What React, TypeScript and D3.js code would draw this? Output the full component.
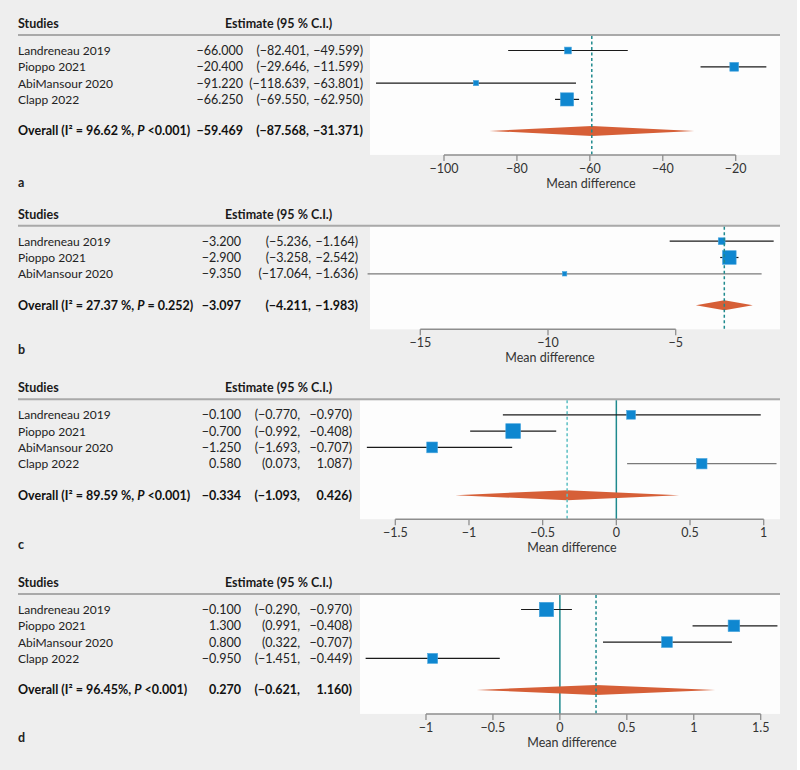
import React from 'react';
import * as d3 from 'd3';

// ---- data ----
const studies4 = ['Landreneau 2019', 'Pioppo 2021', 'AbiMansour 2020', 'Clapp 2022'];
const studies3 = ['Landreneau 2019', 'Pioppo 2021', 'AbiMansour 2020'];

// panel a
const meanA = [-66.0, -20.4, -91.22, -66.25];
const lowA = [-82.401, -29.646, -118.639, -69.55];
const highA = [-49.599, -11.599, -63.801, -62.95];
const weightA = [17, 22, 13, 33];
const estTextA = ['−66.000', '−20.400', '−91.220', '−66.250'];
const ciLoTextA = ['(−82.401,', '(−29.646,', '(−118.639,', '(−69.550,'];
const ciHiTextA = ['−49.599)', '−11.599)', '−63.801)', '−62.950)'];
const overallA = [-59.469, -87.568, -31.371];
const overallTextA = ['−59.469', '(−87.568,', '−31.371)'];
const ticksA = [-100, -80, -60, -40, -20];

// panel b
const meanB = [-3.2, -2.9, -9.35];
const lowB = [-5.236, -3.258, -17.064];
const highB = [-1.164, -2.542, -1.636];
const weightB = [17, 34, 11];
const estTextB = ['−3.200', '−2.900', '−9.350'];
const ciLoTextB = ['(−5.236,', '(−3.258,', '(−17.064,'];
const ciHiTextB = ['−1.164)', '−2.542)', '−1.636)'];
const overallB = [-3.097, -4.211, -1.983];
const overallTextB = ['−3.097', '(−4.211,', '−1.983)'];
const ticksB = [-15, -10, -5];

// panel c
const meanC = [0.1, -0.7, -1.25, 0.58];
const lowC = [-0.77, -0.992, -1.693, 0.073];
const highC = [0.98, -0.408, -0.707, 1.087];
const weightC = [22, 37, 27, 26];
const estTextC = ['−0.100', '−0.700', '−1.250', '0.580'];
const ciLoTextC = ['(−0.770,', '(−0.992,', '(−1.693,', '(0.073,'];
const ciHiTextC = ['−0.970)', '−0.408)', '−0.707)', '1.087)'];
const overallC = [-0.334, -1.093, 0.426];
const overallTextC = ['−0.334', '(−1.093,', '0.426)'];
const ticksC = [-1.5, -1, -0.5, 0, 0.5, 1];

// panel d
const meanD = [-0.1, 1.3, 0.8, -0.95];
const lowD = [-0.29, 0.991, 0.322, -1.451];
const highD = [0.09, 1.625, 1.285, -0.449];
const weightD = [36, 29, 27, 25];
const estTextD = ['−0.100', '1.300', '0.800', '−0.950'];
const ciLoTextD = ['(−0.290,', '(0.991,', '(0.322,', '(−1.451,'];
const ciHiTextD = ['−0.970)', '−0.408)', '−0.707)', '−0.449)'];
const overallD = [0.27, -0.621, 1.16];
const overallTextD = ['0.270', '(−0.621,', '1.160)'];
const ticksD = [-1, -0.5, 0, 0.5, 1, 1.5];

const i2Text = ['96.62 %', '27.37 %', '89.59 %', '96.45%'];
const pText = [' <0.001)', ' = 0.252)', ' <0.001)', ' <0.001)'];
const panelLetters = ['a', 'b', 'c', 'd'];

// ---- layout ----
const W = 800;
const H = 770;
const FONT = 'Lato, "Noto Sans", sans-serif';
const BLUE = '#0f87d0';
const ORANGE = '#d65f37';
const TEAL = '#1f8a8e';
const TEAL_LIGHT = '#5bbfc3';
const RIGHT = 780;

const panels = [
  { studies: studies4, mean: meanA, low: lowA, high: highA, weight: weightA, est: estTextA, ciLo: ciLoTextA, ciHi: ciHiTextA, overall: overallA, overallText: overallTextA, ticks: ticksA,
    ruleY: 35, plotLeft: 370, range: [444, 735.7], estX: 243, loX: 309, hiX: 363, titleX: 591, letterY: 187, zero: false, dashColor: TEAL, faintRow: -1 },
  { studies: studies3, mean: meanB, low: lowB, high: highB, weight: weightB, est: estTextB, ciLo: ciLoTextB, ciHi: ciHiTextB, overall: overallB, overallText: overallTextB, ticks: ticksB,
    ruleY: 225.7, plotLeft: 370, range: [420.3, 675.7], estX: 241, loX: 311, hiX: 358, titleX: 550, letterY: 354, zero: false, dashColor: TEAL, faintRow: 2 },
  { studies: studies4, mean: meanC, low: lowC, high: highC, weight: weightC, est: estTextC, ciLo: ciLoTextC, ciHi: ciHiTextC, overall: overallC, overallText: overallTextC, ticks: ticksC,
    ruleY: 399.3, plotLeft: 360, range: [395.3, 763.7], estX: 241, loX: 300, hiX: 352, titleX: 572, letterY: 549, zero: true, dashColor: TEAL_LIGHT, faintRow: 3 },
  { studies: studies4, mean: meanD, low: lowD, high: highD, weight: weightD, est: estTextD, ciLo: ciLoTextD, ciHi: ciHiTextD, overall: overallD, overallText: overallTextD, ticks: ticksD,
    ruleY: 594, plotLeft: 360, range: [426, 760.7], estX: 241, loX: 300, hiX: 352, titleX: 572, letterY: 742, zero: true, dashColor: TEAL, faintRow: -1 },
];

const sizeScale = d3.scaleLinear().domain([0, 100]).range([0, 40]);
const fmt = d3.format('~g');

const Panel = ({ p, idx }: { p: any; idx: number }) => {
  const x = d3.scaleLinear().domain([p.ticks[0], p.ticks[p.ticks.length - 1]]).range(p.range);
  const n = p.studies.length;
  const rowY = (i: number) => p.ruleY + 15.5 + i * 16.3;
  const overallY = rowY(n - 1) + 31.5;
  const axisY = overallY + 24;
  const plotTop = p.ruleY + 1;
  const [om, olo, ohi] = p.overall;
  const diamond = `M${x(olo)},${overallY} L${x(om)},${overallY - 5} L${x(ohi)},${overallY} L${x(om)},${overallY + 5} Z`;

  return (
    <g>
      {/* header */}
      <text x={18} y={p.ruleY - 7} fontWeight="bold" fontSize={12.5} fill="#1a1a1a">Studies</text>
      <text x={225} y={p.ruleY - 7} fontWeight="bold" fontSize={12.5} fill="#1a1a1a">Estimate (95 % C.I.)</text>
      <rect x={p.plotLeft} y={plotTop} width={RIGHT - p.plotLeft} height={axisY - plotTop} fill="#fdfdfd" />
      <line x1={18} x2={RIGHT} y1={p.ruleY} y2={p.ruleY} stroke="#a9a9a9" strokeWidth={2} />

      {/* table */}
      {p.studies.map((s: string, i: number) => (
        <g key={s} fill="#222">
          <text x={18} y={rowY(i) + 4.5} fontSize={12}>{s}</text>
          <text x={p.estX} y={rowY(i) + 4.5} fontSize={12.5} textAnchor="end">{p.est[i]}</text>
          <text x={p.loX} y={rowY(i) + 4.5} fontSize={12.5} textAnchor="end">{p.ciLo[i]}</text>
          <text x={p.hiX} y={rowY(i) + 4.5} fontSize={12.5} textAnchor="end">{p.ciHi[i]}</text>
        </g>
      ))}
      <g fontSize={12.5} fontWeight="bold" fill="#111">
        <text x={18} y={overallY + 4.5}>
          {`Overall (I² = ${i2Text[idx]}, `}
          <tspan fontStyle="italic">P</tspan>
          {pText[idx]}
        </text>
        <text x={p.estX} y={overallY + 4.5} textAnchor="end">{p.overallText[0]}</text>
        <text x={p.loX} y={overallY + 4.5} textAnchor="end">{p.overallText[1]}</text>
        <text x={p.hiX} y={overallY + 4.5} textAnchor="end">{p.overallText[2]}</text>
      </g>

      {/* reference lines */}
      {p.zero && (
        <line x1={x(0)} x2={x(0)} y1={plotTop} y2={axisY} stroke={TEAL} strokeWidth={1.5} />
      )}

      {/* CIs and squares */}
      {p.studies.map((s: string, i: number) => {
        const sz = sizeScale(p.weight[i]);
        return (
          <g key={`m-${s}`}>
            <line x1={x(p.low[i])} x2={x(p.high[i])} y1={rowY(i)} y2={rowY(i)}
              stroke={i === p.faintRow ? '#7a7a7a' : '#1a1a1a'} strokeWidth={1.2} />
            <rect x={x(p.mean[i]) - sz / 2} y={rowY(i) - sz / 2} width={sz} height={sz}
              fill={BLUE} stroke="#4aa6de" strokeWidth={0.6} />
          </g>
        );
      })}

      <path d={diamond} fill={ORANGE} />
      <line x1={x(om)} x2={x(om)} y1={plotTop} y2={axisY} stroke={p.dashColor} strokeWidth={1.5} strokeDasharray="3,2.5" />

      {/* axis */}
      <line x1={x(p.ticks[0])} x2={x(p.ticks[p.ticks.length - 1])} y1={axisY} y2={axisY} stroke="#8e8e8e" strokeWidth={1.5} />
      {p.ticks.map((t: number) => (
        <g key={`t-${t}`}>
          <line x1={x(t)} x2={x(t)} y1={axisY} y2={axisY + 6} stroke="#8e8e8e" strokeWidth={1.3} />
          <text x={x(t)} y={axisY + 18} textAnchor="middle" fontSize={12.5} fill="#333">{fmt(t)}</text>
        </g>
      ))}
      <text x={p.titleX} y={axisY + 33} textAnchor="middle" fontSize={12.5} fill="#333">Mean difference</text>
      <text x={18} y={p.letterY} fontSize={12.5} fontWeight="bold" fill="#222">{panelLetters[idx]}</text>
    </g>
  );
};

export default function App() {
  return (
    <div style={{ position: 'absolute', left: 0, top: 0 }}>
      <svg width={W} height={H} style={{ display: 'block', fontFamily: FONT }}>
        <rect x={0} y={0} width={W} height={H} fill="#ffffff" />
        <rect x={0} y={0} width={797} height={H} fill="#eeeeee" />
        {panels.map((p, i) => (
          <Panel key={panelLetters[i]} p={p} idx={i} />
        ))}
      </svg>
    </div>
  );
}
